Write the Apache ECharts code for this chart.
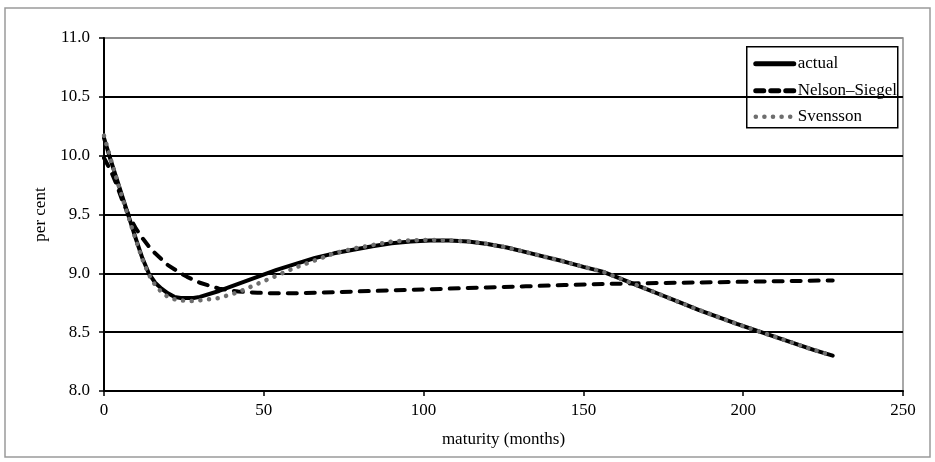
<!DOCTYPE html>
<html>
<head>
<meta charset="utf-8">
<script src="https://cdn.jsdelivr.net/npm/echarts@6/dist/echarts.min.js"></script>
<style>
  html, body { margin: 0; padding: 0; background: #fff; }
  #chart { width: 935px; height: 462px; }
</style>
</head>
<body>
<div id="chart"></div>
<script>
// values (maturity in months, rate in per cent)
var actualMonths = [0, 2, 4, 6, 8, 10, 12, 14, 16, 18, 20, 22, 24, 26, 28, 30, 36, 42, 48, 54, 60, 66, 72, 78, 84, 90, 96, 102, 108, 114, 120, 126, 132, 138, 144, 150, 156, 162, 168, 174, 180, 186, 192, 198, 204, 210, 216, 222, 228];
var actualRates = [10.15, 9.97, 9.80, 9.63, 9.46, 9.29, 9.13, 9.00, 8.92, 8.87, 8.83, 8.80, 8.79, 8.79, 8.79, 8.80, 8.85, 8.91, 8.97, 9.03, 9.08, 9.13, 9.17, 9.20, 9.23, 9.255, 9.27, 9.28, 9.28, 9.27, 9.25, 9.22, 9.18, 9.14, 9.10, 9.055, 9.015, 8.95, 8.885, 8.82, 8.755, 8.69, 8.63, 8.57, 8.515, 8.46, 8.405, 8.35, 8.30];

var nsMonths = [0, 2, 4, 6, 8, 10, 12, 14, 16, 18, 20, 22, 24, 26, 28, 30, 36, 42, 48, 54, 60, 66, 72, 84, 96, 108, 120, 132, 144, 156, 168, 180, 192, 204, 216, 228];
var nsRates = [9.98, 9.88, 9.75, 9.60, 9.48, 9.38, 9.30, 9.23, 9.17, 9.12, 9.07, 9.035, 9.00, 8.97, 8.945, 8.92, 8.87, 8.845, 8.835, 8.83, 8.83, 8.835, 8.84, 8.85, 8.86, 8.87, 8.88, 8.89, 8.90, 8.91, 8.915, 8.92, 8.925, 8.93, 8.935, 8.94];

var svMonths = [0, 2, 4, 6, 8, 10, 12, 14, 16, 18, 20, 22, 24, 26, 28, 30, 36, 42, 48, 54, 60, 66, 72, 78, 84, 90, 96, 102, 108, 114, 120, 126, 132, 138, 144, 150, 156, 162, 168, 174, 180, 186, 192, 198, 204, 210, 216, 222, 228];
var svRates = [10.17, 9.98, 9.80, 9.62, 9.45, 9.28, 9.12, 8.99, 8.90, 8.84, 8.80, 8.78, 8.77, 8.765, 8.765, 8.77, 8.79, 8.84, 8.91, 8.98, 9.05, 9.11, 9.17, 9.21, 9.24, 9.27, 9.28, 9.285, 9.28, 9.27, 9.25, 9.22, 9.18, 9.14, 9.10, 9.055, 9.015, 8.95, 8.885, 8.82, 8.755, 8.69, 8.63, 8.57, 8.515, 8.46, 8.405, 8.35, 8.30];

var seriesNames = ["actual", "Nelson\u2013Siegel", "Svensson"];

function pairs(xs, ys) {
  return xs.map(function (x, i) { return [x, ys[i]]; });
}

var serif = "'Liberation Serif', 'DejaVu Serif', serif";
var dotGrey = "#6e6e6e";

// hand-drawn legend box (Excel style line samples)
var lx = 746, ly = 46;
var legendGraphic = {
  type: "group",
  left: lx,
  top: ly,
  z: 100,
  children: [
    { type: "rect", shape: { x: 0, y: 0, width: 151, height: 81 }, style: { fill: "#fff", stroke: "#000", lineWidth: 1.5 } },
    { type: "line", shape: { x1: 9, y1: 17, x2: 47, y2: 17 }, style: { stroke: "#000", lineWidth: 5, lineCap: "round" } },
    { type: "line", shape: { x1: 9, y1: 44, x2: 48, y2: 44 }, style: { stroke: "#000", lineWidth: 5, lineCap: "round", lineDash: [8, 7] } },
    { type: "line", shape: { x1: 9, y1: 70, x2: 48, y2: 70 }, style: { stroke: dotGrey, lineWidth: 4.5, lineCap: "round", lineDash: [0.1, 8.5] } },
    { type: "text", x: 51, y: 17, style: { text: seriesNames[0], font: "17px " + serif, fill: "#000", verticalAlign: "middle" } },
    { type: "text", x: 51, y: 44, style: { text: seriesNames[1], font: "17px " + serif, fill: "#000", verticalAlign: "middle" } },
    { type: "text", x: 51, y: 70, style: { text: seriesNames[2], font: "17px " + serif, fill: "#000", verticalAlign: "middle" } }
  ]
};

var chart = echarts.init(document.getElementById("chart"), null, { renderer: "canvas" });

var option = {
  backgroundColor: "#fff",
  animation: false,
  textStyle: { fontFamily: serif, color: "#000" },
  graphic: [
    {
      type: "rect",
      shape: { x: 5, y: 8, width: 925, height: 449 },
      style: { fill: "none", stroke: "#9a9a9a", lineWidth: 1.5 },
      z: -1
    },
    legendGraphic
  ],
  grid: {
    left: 104,
    right: 32,
    top: 38,
    bottom: 71,
    show: true,
    borderColor: "#8c8c8c",
    borderWidth: 1.5,
    backgroundColor: "transparent"
  },
  xAxis: {
    type: "value",
    min: 0,
    max: 250,
    interval: 50,
    name: "maturity (months)",
    nameLocation: "middle",
    nameGap: 40,
    nameTextStyle: { fontFamily: serif, fontSize: 17, color: "#000" },
    axisLine: { onZero: false, lineStyle: { color: "#000", width: 2 } },
    axisTick: { show: true, length: 5, lineStyle: { color: "#000", width: 1.5 } },
    axisLabel: { fontFamily: serif, fontSize: 17, color: "#000", margin: 11 },
    splitLine: { show: false }
  },
  yAxis: {
    type: "value",
    min: 8,
    max: 11,
    interval: 0.5,
    name: "per cent",
    nameLocation: "middle",
    nameRotate: 90,
    nameGap: 52,
    nameTextStyle: { fontFamily: serif, fontSize: 17, color: "#000" },
    axisLine: { show: true, lineStyle: { color: "#000", width: 2 } },
    axisTick: { show: true, length: 5, lineStyle: { color: "#000", width: 1.5 } },
    axisLabel: {
      fontFamily: serif,
      fontSize: 17,
      color: "#000",
      margin: 14,
      formatter: function (v) { return v.toFixed(1); }
    },
    splitLine: {
      show: true,
      lineStyle: { color: ["#000", "#000", "#000", "#000", "#000", "#000", "#8c8c8c"], width: 2 }
    }
  },
  series: [
    {
      name: seriesNames[0],
      type: "line",
      showSymbol: false,
      symbol: "none",
      lineStyle: { color: "#000", width: 4, cap: "round", join: "round" },
      data: pairs(actualMonths, actualRates),
      z: 2
    },
    {
      name: seriesNames[1],
      type: "line",
      showSymbol: false,
      symbol: "none",
      lineStyle: { color: "#000", width: 4, type: [9, 9], cap: "round", join: "round" },
      data: pairs(nsMonths, nsRates),
      z: 3
    },
    {
      name: seriesNames[2],
      type: "line",
      showSymbol: false,
      symbol: "none",
      lineStyle: { color: dotGrey, width: 4.5, type: [0.1, 8.6], cap: "round", join: "round" },
      data: pairs(svMonths, svRates),
      z: 4
    }
  ]
};

chart.setOption(option);
</script>
</body>
</html>
